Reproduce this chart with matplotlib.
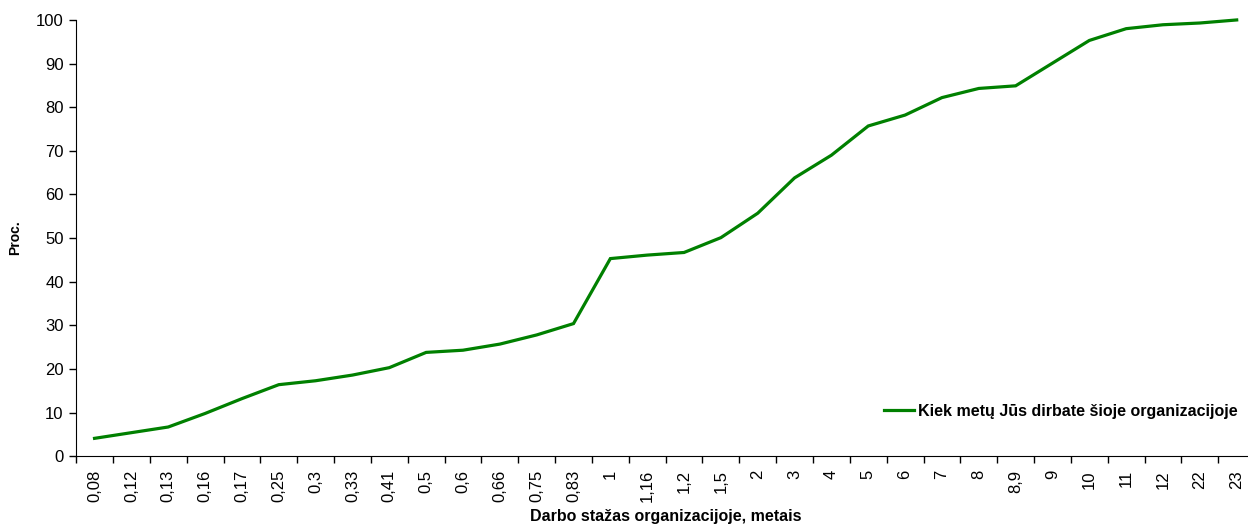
import matplotlib
matplotlib.use("Agg")
import matplotlib.pyplot as plt
from matplotlib.ticker import FixedLocator, MultipleLocator

plt.rcParams['font.family'] = ['Liberation Sans', 'DejaVu Sans']

# years worked in the organisation (category labels) and cumulative share, %
years = ["0,08", "0,12", "0,13", "0,16", "0,17", "0,25", "0,3", "0,33",
         "0,41", "0,5", "0,6", "0,66", "0,75", "0,83", "1", "1,16", "1,2",
         "1,5", "2", "3", "4", "5", "6", "7", "8", "8,9", "9", "10", "11",
         "12", "22", "23"]
cumulative = [4.1, 5.4, 6.7, 9.8, 13.2, 16.4, 17.3, 18.6, 20.3, 23.8, 24.3,
              25.7, 27.8, 30.4, 45.3, 46.1, 46.7, 50.1, 55.7, 63.8, 69.0,
              75.7, 78.2, 82.2, 84.3, 84.9, 90.1, 95.3, 98.0, 98.9, 99.3,
              100.0]
series_name = "Kiek metų Jūs dirbate šioje organizacijoje"

fig = plt.figure(figsize=(12.48, 5.25), dpi=100)
# plot area runs a little past the right edge of the canvas
ax = fig.add_axes([0.061, 0.131, 0.9447, 0.831])

x = range(len(years))
ax.plot(x, cumulative, color="#008000", linewidth=2.3, label=series_name,
        solid_joinstyle="miter", clip_on=False)

ax.set_xlim(-0.5, len(years) - 0.5)
ax.set_ylim(0, 100)
ax.yaxis.set_major_locator(MultipleLocator(10))

# labels centred on categories, tick marks between them
ax.set_xticks(list(x))
ax.set_xticklabels(years, rotation=90, fontsize=12)
ax.xaxis.set_minor_locator(FixedLocator([i - 0.5 for i in range(len(years) + 1)]))
ax.tick_params(axis="x", which="major", length=0, pad=10)
ax.tick_params(axis="x", which="minor", length=5, direction="out", width=1)
ax.tick_params(axis="y", labelsize=12, length=5, width=1, direction="out",
               pad=4)

for side in ("top", "right"):
    ax.spines[side].set_visible(False)

ax.set_ylabel("Proc.", fontsize=10, fontweight="bold", labelpad=10)
ax.set_xlabel("Darbo stažas organizacijoje, metais", fontsize=11.5,
              fontweight="bold", labelpad=5)

ax.legend(loc="center left", bbox_to_anchor=(0.673, 0.103), frameon=False,
          handlelength=1.9, handletextpad=0.2,
          prop={"weight": "bold", "size": 11.5})

fig.savefig("out.png", dpi=100)
